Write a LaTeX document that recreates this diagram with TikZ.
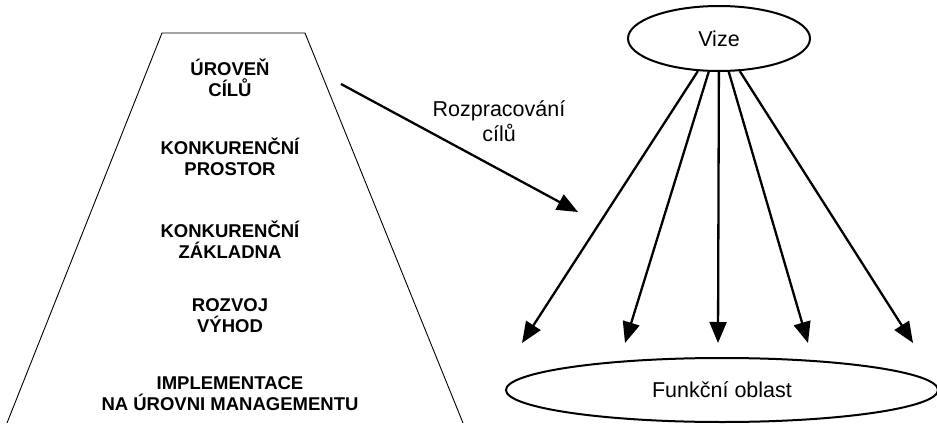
\documentclass[tikz,border=0pt]{standalone}
\usepackage{fontspec}
\setmainfont{Liberation Sans}
\usetikzlibrary{arrows.meta,shapes.geometric}

\tikzset{
  level/.style={font=\bfseries\fontsize{18.5}{21}\selectfont, align=center, inner sep=0pt},
  plain/.style={font=\fontsize{21.5}{25}\selectfont, align=center, inner sep=0pt},
  oval/.style={ellipse, draw, line width=2pt, inner sep=0pt,
               font=\fontsize{21.5}{25}\selectfont},
  flow/.style={line width=2.3pt, -{Triangle[length=21pt,width=17pt]}},
  edge/.style={line width=0.9pt}
}

\begin{document}
\begin{tikzpicture}[x=1pt, y=-1pt]
  \useasboundingbox (0,0) rectangle (937,423);

  % pyramid of strategy levels
  \coordinate (tl) at (162,33);
  \coordinate (tr) at (305,33);
  \coordinate (bl) at (7,423);
  \coordinate (br) at (463,423);
  \draw[edge] (bl) -- (tl) -- (tr) -- (br);

  \node[level] (l1) at (230,78)  {ÚROVEŇ\\CÍLŮ};
  \node[level] (l2) at (230,157) {KONKURENČNÍ\\PROSTOR};
  \node[level] (l3) at (230,240) {KONKURENČNÍ\\ZÁKLADNA};
  \node[level] (l4) at (230,316) {ROZVOJ\\VÝHOD};
  \node[level] (l5) at (230,394) {IMPLEMENTACE\\NA ÚROVNI MANAGEMENTU};

  % goal elaboration arrow
  \coordinate (rs) at (341,84);
  \coordinate (re) at (578,212);
  \draw[flow] (rs) -- (re);
  \node[plain] (rlab) at (499,121) {Rozpracování\\cílů};

  % vision fanning out to functional areas
  \node[oval, minimum width=182pt, minimum height=65pt] (vize) at (719,38.5) {Vize};
  \node[oval, minimum width=432pt, minimum height=64pt] (fo) at (722,390) {Funkční oblast};

  \coordinate (t1) at (522,343);
  \coordinate (t2) at (625,343);
  \coordinate (t3) at (718,343);
  \coordinate (t4) at (808,343);
  \coordinate (t5) at (913,343);
  \foreach \t in {t1,t2,t3,t4,t5}
    \draw[flow] (vize) -- (\t);
\end{tikzpicture}
\end{document}
